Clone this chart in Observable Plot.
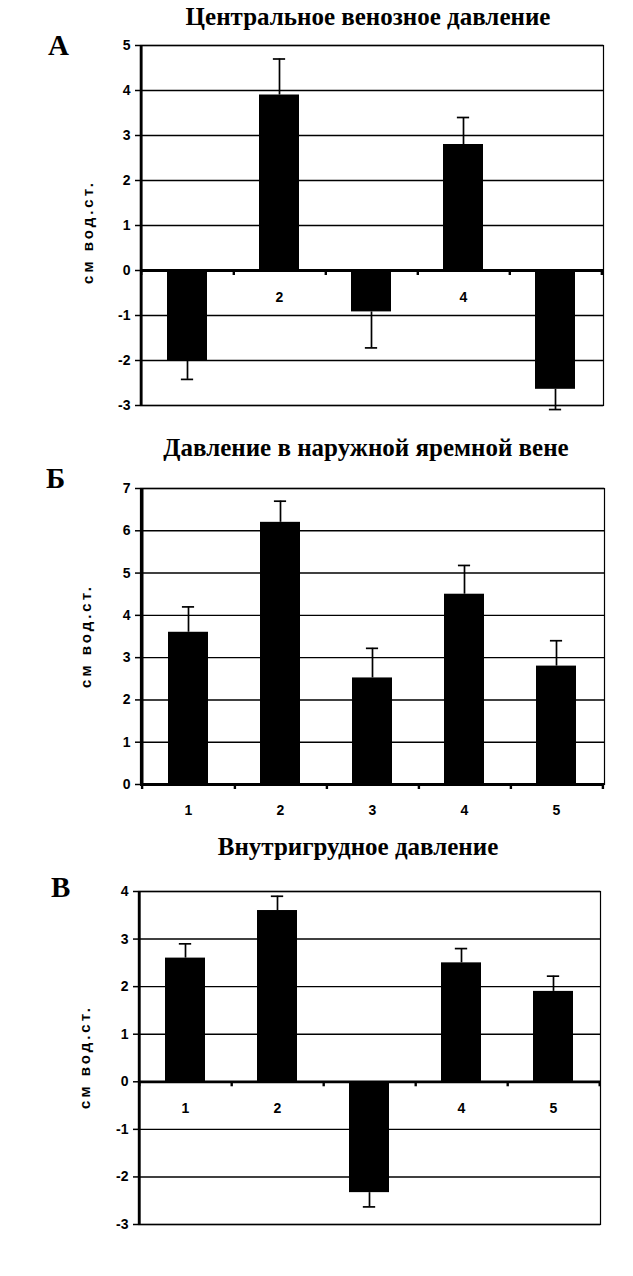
<!DOCTYPE html>
<html>
<head>
<meta charset="utf-8">
<script src="https://cdn.jsdelivr.net/npm/d3@7"></script>
<script src="https://cdn.jsdelivr.net/npm/@observablehq/plot@0.6"></script>
<style>
  html, body { margin: 0; padding: 0; background: #fff; }
  #page { position: relative; width: 633px; height: 1276px; background: #fff; overflow: hidden; }
  .title { position: absolute; font-family: "Liberation Serif", "Times New Roman", serif; font-size: 25px; font-weight: bold; color: #000; white-space: nowrap; transform: translateX(-50%); line-height: 1; }
  .letter { position: absolute; font-family: "Liberation Serif", "Times New Roman", serif; font-size: 29px; font-weight: bold; color: #000; line-height: 1; }
  .ylab { position: absolute; font-family: "Liberation Sans", Arial, sans-serif; font-size: 15px; font-weight: bold; letter-spacing: 3px; white-space: nowrap; transform: translate(-50%, -50%) rotate(-90deg); color: #000; }
  .panel { position: absolute; left: 0; }
  .panel svg text { font-size: 14px; font-weight: bold; }
</style>
</head>
<body>
<div id="page"></div>
<script>
// ---- data ----
const categories = ["1", "2", "3", "4", "5"];

const titleA = "Центральное венозное давление";
const titleB = "Давление в наружной яремной вене";
const titleC = "Внутригрудное давление";
const panelLetters = ["А", "Б", "В"];
const yLabel = "см вод.ст.";

// Panel А: central venous pressure (mean, SEM)
const cvpMean = [-2.0, 3.9, -0.92, 2.8, -2.64];
const cvpSem  = [0.42, 0.8, 0.8, 0.6, 0.45];
// Panel Б: external jugular vein pressure
const ejvMean = [3.6, 6.2, 2.52, 4.5, 2.8];
const ejvSem  = [0.6, 0.5, 0.7, 0.68, 0.6];
// Panel В: intrathoracic pressure
const itpMean = [2.6, 3.6, -2.33, 2.5, 1.9];
const itpSem  = [0.3, 0.3, 0.3, 0.3, 0.32];

const yTicksA = [-3, -2, -1, 0, 1, 2, 3, 4, 5];
const yTicksB = [0, 1, 2, 3, 4, 5, 6, 7];
const yTicksC = [-3, -2, -1, 0, 1, 2, 3, 4];

// ---- layout ----
const page = document.getElementById("page");
const W = 633;

function addDiv(cls, text, style) {
  const d = document.createElement("div");
  d.className = cls;
  d.textContent = text;
  Object.assign(d.style, style);
  page.appendChild(d);
  return d;
}

function panel({means, sems, ticks, plotTop, plotH, mLeft, mRight, mBottom, labelDy}) {
  const mTop = 10;
  const data = categories.map((c, i) => ({cat: c, v: means[i], e: means[i] + Math.sign(means[i]) * sems[i]}));
  const domain = [d3.min(ticks), d3.max(ticks)];
  const pxPerUnit = plotH / (domain[1] - domain[0]);
  const innerW = W - mLeft - mRight;
  const step = innerW / categories.length;
  const pad = 0.56;
  const bandW = step * (1 - pad);
  const capW = 13;
  const capInset = (bandW - capW) / 2;
  const tickUnits = 5 / pxPerUnit;

  const chart = Plot.plot({
    width: W,
    height: mTop + plotH + mBottom,
    marginTop: mTop,
    marginBottom: mBottom,
    marginLeft: mLeft,
    marginRight: mRight,
    style: {fontFamily: "'Liberation Sans', Arial, sans-serif", fontSize: "14px", fontWeight: "bold", background: "white", color: "black", overflow: "visible"},
    x: {domain: categories, paddingInner: pad, paddingOuter: pad / 2, axis: null},
    y: {domain, axis: null},
    marks: [
      Plot.gridY(ticks, {stroke: "black", strokeOpacity: 1, strokeWidth: 1.4}),
      Plot.frame({stroke: "black", strokeWidth: 1.2}),
      // category labels (negative bars drawn afterwards hide some of them, as in the original)
      Plot.text(categories, {x: d => d, y: () => 0, dy: labelDy, text: d => d, fontWeight: "bold", fontSize: 14, fill: "black"}),
      Plot.barY(data, {x: "cat", y1: () => 0, y2: "v", fill: "black"}),
      Plot.ruleX(data, {x: "cat", y1: "v", y2: "e", stroke: "black", strokeWidth: 1.7}),
      Plot.tickY(data, {x: "cat", y: "e", stroke: "black", strokeWidth: 1.7, insetLeft: capInset, insetRight: capInset}),
      Plot.ruleY([0], {stroke: "black", strokeWidth: 2.8}),
      // category boundary ticks below the zero line
      Plot.ruleX(categories, {x: d => d, dx: step / 2, y1: () => 0, y2: () => -tickUnits, stroke: "black", strokeWidth: 2.4}),
      Plot.ruleX([categories[0]], {x: d => d, dx: -step / 2, y1: () => 0, y2: () => -tickUnits, stroke: "black", strokeWidth: 2.4}),
      // left value axis line
      Plot.ruleX([categories[0]], {x: d => d, dx: -step / 2, y1: () => domain[0], y2: () => domain[1], stroke: "black", strokeWidth: 2.8}),
      Plot.axisY(ticks, {tickSize: 5, tickPadding: 5, tickFormat: d => String(d), fontWeight: "bold", fontSize: 14, label: null, stroke: "black", strokeWidth: 1.5})
    ]
  });
  const wrap = document.createElement("div");
  wrap.className = "panel";
  wrap.style.top = (plotTop - mTop) + "px";
  wrap.appendChild(chart);
  page.appendChild(wrap);
}

// Panel А
panel({means: cvpMean, sems: cvpSem, ticks: yTicksA, plotTop: 45, plotH: 360, mLeft: 140, mRight: 30, mBottom: 15, labelDy: 27});
// Panel Б
panel({means: ejvMean, sems: ejvSem, ticks: yTicksB, plotTop: 488, plotH: 296, mLeft: 140, mRight: 29, mBottom: 40, labelDy: 26});
// Panel В
panel({means: itpMean, sems: itpSem, ticks: yTicksC, plotTop: 891, plotH: 333, mLeft: 138, mRight: 33, mBottom: 15, labelDy: 27});

// titles
addDiv("title", titleA, {left: "368px", top: "4px"});
addDiv("title", titleB, {left: "366px", top: "435px"});
addDiv("title", titleC, {left: "358px", top: "834px"});
// panel letters
addDiv("letter", panelLetters[0], {left: "48px", top: "31px"});
addDiv("letter", panelLetters[1], {left: "46px", top: "464px"});
addDiv("letter", panelLetters[2], {left: "51px", top: "873px"});
// y labels
addDiv("ylab", yLabel, {left: "87px", top: "232px"});
addDiv("ylab", yLabel, {left: "85px", top: "636px"});
addDiv("ylab", yLabel, {left: "84px", top: "1057px"});
</script>
</body>
</html>
